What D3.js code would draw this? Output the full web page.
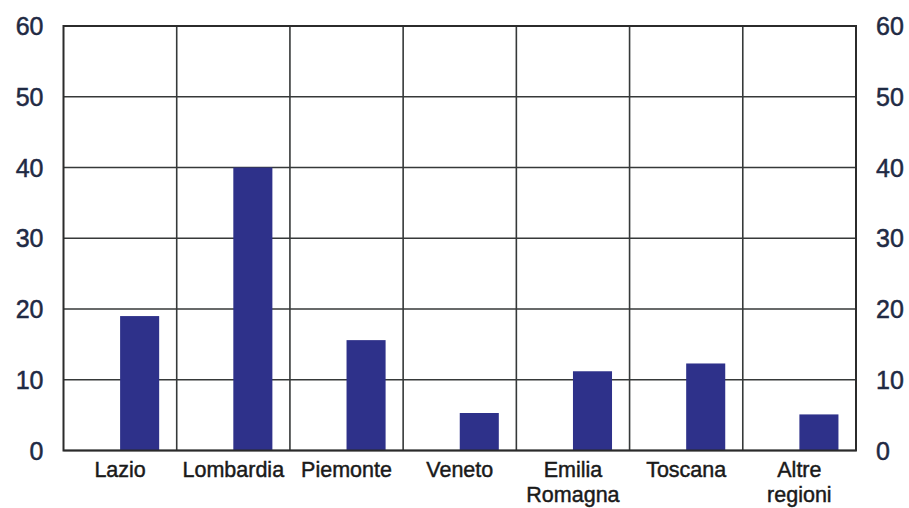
<!DOCTYPE html>
<html lang="it">
<head>
  <meta charset="UTF-8">
  <title>Regioni</title>
  <script src="https://d3js.org/d3.v7.min.js"></script>
  <style>
    body { margin: 0; background: #fff; }
    svg text { font-family: "Liberation Sans", Arial, sans-serif; }
  </style>
</head>
<body>
  <svg width="909" height="508"></svg>
  <script>
    const categories = ["Lazio", "Lombardia", "Piemonte", "Veneto", "Emilia\nRomagna", "Toscana", "Altre\nregioni"];
    const values = [19, 40, 15.6, 5.3, 11.2, 12.3, 5.1];
    const ticks = [0, 10, 20, 30, 40, 50, 60];

    const svg = d3.select("svg");
    const plotLeft = 63.5, plotRight = 856, plotTop = 26, plotBottom = 450.5;

    const x = d3.scaleBand()
      .domain(categories)
      .range([plotLeft, plotRight]);

    const y = d3.scaleLinear()
      .domain([0, 60])
      .range([plotBottom, plotTop]);

    // horizontal grid
    svg.append("g")
      .selectAll("line")
      .data(ticks)
      .join("line")
      .attr("x1", plotLeft).attr("x2", plotRight)
      .attr("y1", d => y(d)).attr("y2", d => y(d))
      .attr("stroke", "#363939")
      .attr("stroke-width", 1.6);

    // vertical separators
    svg.append("g")
      .selectAll("line")
      .data(categories.slice(1))
      .join("line")
      .attr("x1", d => x(d)).attr("x2", d => x(d))
      .attr("y1", plotTop).attr("y2", plotBottom)
      .attr("stroke", "#363939")
      .attr("stroke-width", 1.6);

    // bars
    svg.append("g")
      .selectAll("rect")
      .data(categories)
      .join("rect")
      .attr("x", d => x(d) + x.bandwidth() * 0.5)
      .attr("width", x.bandwidth() * 0.345)
      .attr("y", (d, i) => y(values[i]))
      .attr("height", (d, i) => y(0) - y(values[i]))
      .attr("fill", "#2e318a");

    // frame
    svg.append("rect")
      .attr("x", plotLeft).attr("y", plotTop)
      .attr("width", plotRight - plotLeft).attr("height", plotBottom - plotTop)
      .attr("fill", "none")
      .attr("stroke", "#2b2b2b")
      .attr("stroke-width", 2);

    // axis labels left and right
    const tickG = svg.append("g")
      .attr("font-size", 25)
      .attr("fill", "#1f2a44")
      .attr("stroke", "#1f2a44")
      .attr("stroke-width", 0.5);
    tickG.selectAll("text.l")
      .data(ticks)
      .join("text")
      .attr("class", "l")
      .attr("x", plotLeft - 20)
      .attr("y", d => y(d))
      .attr("dy", "0.36em")
      .attr("text-anchor", "end")
      .text(d => d);
    tickG.selectAll("text.r")
      .data(ticks)
      .join("text")
      .attr("class", "r")
      .attr("x", plotRight + 20)
      .attr("y", d => y(d))
      .attr("dy", "0.36em")
      .attr("text-anchor", "start")
      .text(d => d);

    // category labels
    const catG = svg.append("g")
      .attr("font-size", 21.5)
      .attr("fill", "#1a1a1a")
      .attr("stroke", "#1a1a1a")
      .attr("stroke-width", 0.45)
      .attr("text-anchor", "middle");
    catG.selectAll("text")
      .data(categories)
      .join("text")
      .attr("x", d => x(d) + x.bandwidth() / 2)
      .attr("y", 477)
      .each(function(d) {
        d3.select(this).selectAll("tspan")
          .data(d.split("\n"))
          .join("tspan")
          .attr("x", x(d) + x.bandwidth() / 2)
          .attr("dy", (t, i) => i === 0 ? 0 : 25)
          .text(t => t);
      });
  </script>
</body>
</html>
